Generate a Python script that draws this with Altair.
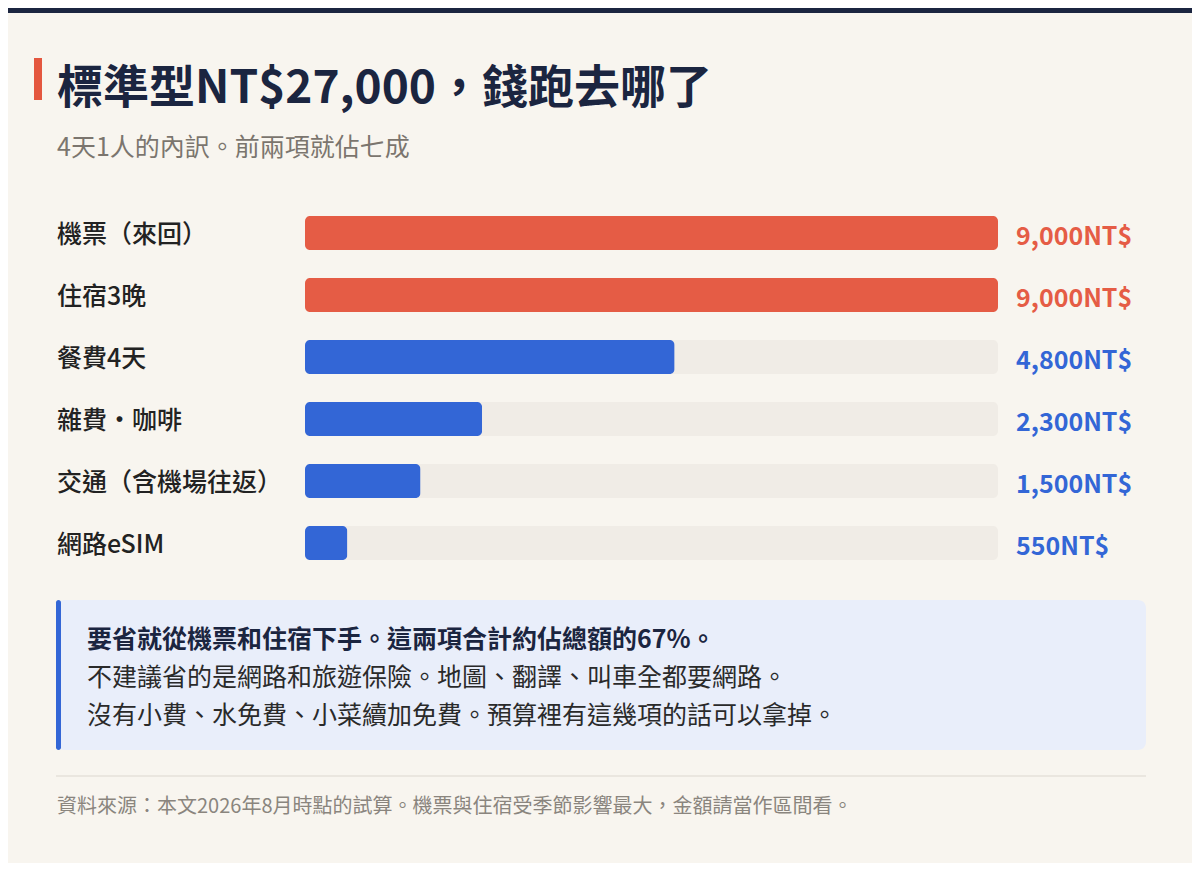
import altair as alt
import pandas as pd

FONT = "Noto Sans CJK TC"

categories = ["機票（來回）", "住宿3晚", "餐費4天", "雜費・咖啡", "交通（含機場往返）", "網路eSIM"]
values = [9000, 9000, 4800, 2300, 1500, 550]
groups = ["major", "major", "minor", "minor", "minor", "minor"]
track_max = 9000

title = "標準型NT$27,000，錢跑去哪了"
subtitle = "4天1人的內訳。前兩項就佔七成"
note_lines = [
    "要省就從機票和住宿下手。這兩項合計約佔總額的67%。",
    "不建議省的是網路和旅遊保險。地圖、翻譯、叫車全都要網路。",
    "沒有小費、水免費、小菜續加免費。預算裡有這幾項的話可以拿掉。",
]
footer = "資料來源：本文2026年8月時點的試算。機票與住宿受季節影響最大，金額請當作區間看。"

RED = "#e55c45"
BLUE = "#3366d6"

df = pd.DataFrame({
    "cat": categories,
    "value": values,
    "group": groups,
    "max": [track_max] * len(categories),
    "label": [f"{v:,}NT$" for v in values],
})

xs = alt.Scale(domain=[0, track_max], range=[297, 990], nice=False, zero=True)
ys = alt.Scale(domain=categories, range=[194, 566], paddingInner=0.45, paddingOuter=0.225)
cs = alt.Scale(domain=["major", "minor"], range=[RED, BLUE])

X = lambda f: alt.X(f, scale=xs, axis=None)
Y = alt.Y("cat:N", scale=ys, axis=None, sort=categories)

one = pd.DataFrame({"t": [""]})

def txt(text, x, y, size, color, weight="normal"):
    d = pd.DataFrame({"t": [text]})
    return alt.Chart(d).mark_text(
        align="left", baseline="middle", font=FONT, fontSize=size,
        fontWeight=weight, color=color
    ).encode(text="t:N", x=alt.value(x), y=alt.value(y))

def rect(x, x2, y, y2, color, r=0):
    return alt.Chart(one).mark_rect(color=color, cornerRadius=r).encode(
        x=alt.value(x), x2=alt.value(x2), y=alt.value(y), y2=alt.value(y2)
    )

band = rect(0, 1184, 0, 5, "#1b2540")
accent = rect(26, 34, 50, 92, "#e4573f")

track = alt.Chart(df).mark_bar(color="#f0ece6", cornerRadius=5).encode(
    x=X("max:Q"), y=Y
)
bars = alt.Chart(df).mark_bar(cornerRadius=5).encode(
    x=X("value:Q"), y=Y,
    color=alt.Color("group:N", scale=cs, legend=None),
)
labels = alt.Chart(df).mark_text(
    align="left", baseline="middle", font=FONT, fontSize=25, fontWeight=500,
    color="#222222", dy=2
).encode(x=alt.value(49), y=Y, text="cat:N")
vals = alt.Chart(df).mark_text(
    align="left", baseline="middle", font=FONT, fontSize=25, fontWeight="bold", dy=4
).encode(
    x=alt.value(1008), y=Y, text="label:N",
    color=alt.Color("group:N", scale=cs, legend=None),
)

box = rect(48, 1138, 592, 742, "#e9eefa", 8)
box_edge = rect(48, 53, 592, 742, BLUE, 3)

sep = alt.Chart(one).mark_rule(color="#dcd7cf", strokeWidth=1).encode(
    x=alt.value(48), x2=alt.value(1138), y=alt.value(768)
)

chart = alt.layer(
    band, accent,
    txt(title, 49, 81, 46, "#1b2540", "bold"),
    txt(subtitle, 49, 140, 25, "#7b756e"),
    track, bars, labels, vals,
    box, box_edge,
    txt(note_lines[0], 79, 632, 25, "#1b2540", "bold"),
    txt(note_lines[1], 79, 670, 25, "#2a2a2a"),
    txt(note_lines[2], 79, 708, 25, "#2a2a2a"),
    sep,
    txt(footer, 49, 799, 20, "#8a857e"),
).properties(
    width=1184, height=855, background="#f8f5ef", padding=0,
    autosize=alt.AutoSizeParams(type="none"),
).configure_view(stroke=None)

chart.save("out.html", embed_options={"renderer": "svg", "actions": False})
